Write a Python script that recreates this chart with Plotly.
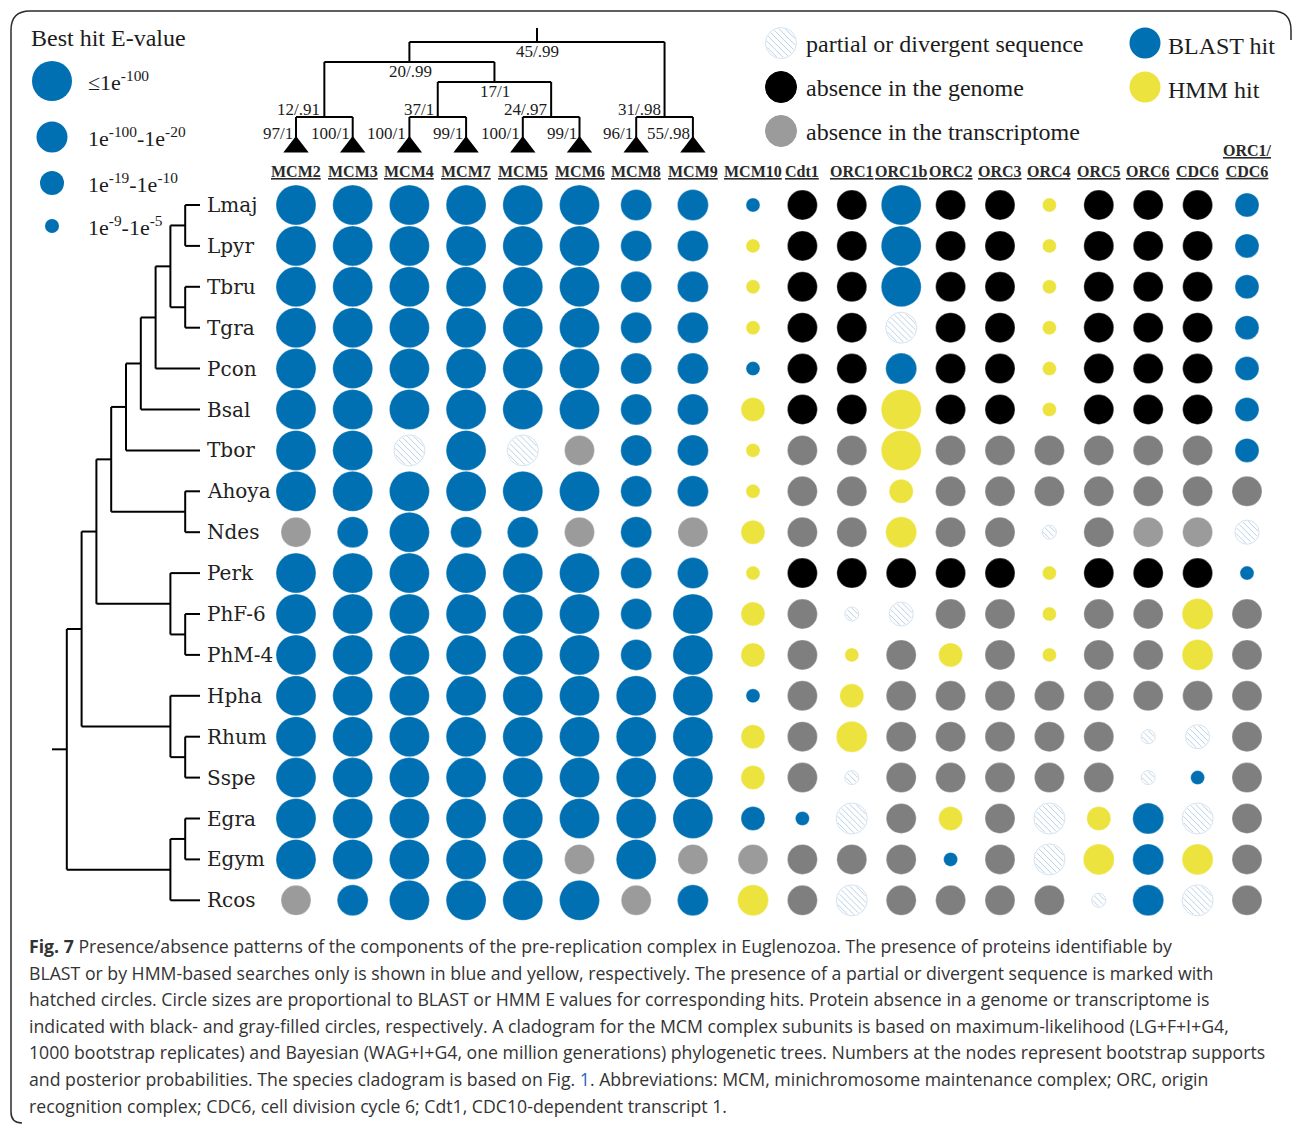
import math
import plotly.graph_objects as go

# ---------------- data ----------------
columns = ["MCM2", "MCM3", "MCM4", "MCM7", "MCM5", "MCM6", "MCM8", "MCM9", "MCM10",
           "Cdt1", "ORC1", "ORC1b", "ORC2", "ORC3", "ORC4", "ORC5", "ORC6", "CDC6", "ORC1/CDC6"]
n_mcm_cols = 8  # columns belonging to the MCM cladogram

species = ["Lmaj", "Lpyr", "Tbru", "Tgra", "Pcon", "Bsal", "Tbor", "Ahoya", "Ndes",
           "Perk", "PhF-6", "PhM-4", "Hpha", "Rhum", "Sspe", "Egra", "Egym", "Rcos"]

# status code: B=BLAST hit, Y=HMM hit, H=partial/divergent, K=absent in genome,
# G=absent in transcriptome (dark), g=absent in transcriptome (light); digit = E-value class
presence = [
    "B1 B1 B1 B1 B1 B1 B2 B2 B4 K K B1 K K Y4 K K K B3",   # Lmaj
    "B1 B1 B1 B1 B1 B1 B2 B2 Y4 K K B1 K K Y4 K K K B3",   # Lpyr
    "B1 B1 B1 B1 B1 B1 B2 B2 Y4 K K B1 K K Y4 K K K B3",   # Tbru
    "B1 B1 B1 B1 B1 B1 B2 B2 Y4 K K H2 K K Y4 K K K B3",   # Tgra
    "B1 B1 B1 B1 B1 B1 B2 B2 B4 K K B2 K K Y4 K K K B3",   # Pcon
    "B1 B1 B1 B1 B1 B1 B2 B2 Y3 K K Y1 K K Y4 K K K B3",   # Bsal
    "B1 B1 H2 B1 H2 g B2 B2 Y4 G G Y1 G G G G G G B3",     # Tbor
    "B1 B1 B1 B1 B1 B1 B2 B2 Y4 G G Y3 G G G G G G G",     # Ahoya
    "g B2 B1 B2 B2 g B2 g Y3 G G Y2 G G H4 G g g H3",      # Ndes
    "B1 B1 B1 B1 B1 B1 B2 B2 Y4 K K K K K Y4 K K K B4",    # Perk
    "B1 B1 B1 B1 B1 B1 B2 B1 Y3 G H4 H3 G G Y4 G G Y2 G",  # PhF-6
    "B1 B1 B1 B1 B1 B1 B2 B1 Y3 G Y4 G Y3 G Y4 G G Y2 G",  # PhM-4
    "B1 B1 B1 B1 B1 B1 B1 B1 B4 G Y3 G G G G G G G G",     # Hpha
    "B1 B1 B1 B1 B1 B1 B1 B1 Y3 G Y2 G G G G G H4 H3 G",   # Rhum
    "B1 B1 B1 B1 B1 B1 B1 B1 Y3 G H4 G G G G G H4 B4 G",   # Sspe
    "B1 B1 B1 B1 B1 B1 B1 B1 B3 B4 H2 G Y3 G H2 Y3 B2 H2 G",  # Egra
    "B1 B1 B1 B1 B1 g B1 g g G G G B4 G H2 Y2 B2 Y2 G",    # Egym
    "g B2 B1 B1 B1 B1 g B2 Y2 G H2 G G G G H4 B2 H2 G",    # Rcos
]

# MCM cladogram: (support, children); tips carry their own supports
mcm_tree = ("45/.99", [
    ("20/.99", [
        ("12/.91", ["MCM2", "MCM3"]),
        ("17/1", [("37/1", ["MCM4", "MCM7"]), ("24/.97", ["MCM5", "MCM6"])]),
    ]),
    ("31/.98", ["MCM8", "MCM9"]),
])
tip_supports = ["97/1", "100/1", "100/1", "99/1", "100/1", "99/1", "96/1", "55/.98"]

# species cladogram (nested pairs)
species_tree = (
    (
        (
            (
                ((((("Lmaj", "Lpyr"), ("Tbru", "Tgra")), "Pcon"), "Bsal"), "Tbor"),
                ("Ahoya", "Ndes"),
            ),
            ("Perk", ("PhF-6", "PhM-4")),
        ),
        ("Hpha", ("Rhum", "Sspe")),
    ),
    (("Egra", "Egym"), "Rcos"),
)

evalue_classes = ["\u22641e<sup>-100</sup>", "1e<sup>-100</sup>-1e<sup>-20</sup>",
                  "1e<sup>-19</sup>-1e<sup>-10</sup>", "1e<sup>-9</sup>-1e<sup>-5</sup>"]

caption_lines = [
    "<b>Fig. 7</b> Presence/absence patterns of the components of the pre-replication complex in Euglenozoa. The presence of proteins identifiable by",
    "BLAST or by HMM-based searches only is shown in blue and yellow, respectively. The presence of a partial or divergent sequence is marked with",
    "hatched circles. Circle sizes are proportional to BLAST or HMM E values for corresponding hits. Protein absence in a genome or transcriptome is",
    "indicated with black- and gray-filled circles, respectively. A cladogram for the MCM complex subunits is based on maximum-likelihood (LG+F+I+G4,",
    "1000 bootstrap replicates) and Bayesian (WAG+I+G4, one million generations) phylogenetic trees. Numbers at the nodes represent bootstrap supports",
    "and posterior probabilities. The species cladogram is based on Fig. <span style='color:#2a62b8'>1</span>. Abbreviations: MCM, minichromosome maintenance complex; ORC, origin",
    "recognition complex; CDC6, cell division cycle 6; Cdt1, CDC10-dependent transcript 1.",
]

# ---------------- layout constants ----------------
W, H = 1293, 1124
COL_X0, COL_DX1 = 296.0, 56.7
COL_X1, COL_DX2 = 753.0, 49.4
ROW_Y0, ROW_DY = 205.0, 40.9
SIZE = {"1": 40, "2": 31, "3": 24, "4": 14}
ABS_SIZE = 30
COLOR = {"B": "#0070b2", "Y": "#ede33f", "K": "#000000", "G": "#7f7f7f",
         "g": "#9b9b9b", "H": "#ffffff"}
HATCH_LINE = "#b9d2e8"
HATCH_EDGE = "#d3e3f1"
SERIF = "Liberation Serif, Times New Roman, serif"
LABEL_FONT = "DejaVu Serif, serif"
TXT = "#1c1c1c"


def col_x(i):
    return COL_X0 + COL_DX1 * i if i < n_mcm_cols else COL_X1 + COL_DX2 * (i - n_mcm_cols)


def row_y(j):
    return ROW_Y0 + ROW_DY * j


col_pos = {c: col_x(i) for i, c in enumerate(columns)}
row_pos = {s: row_y(j) for j, s in enumerate(species)}

fig = go.Figure()
annotations = []
shapes = []


def ann(x, y, text, size, family=SERIF, color=TXT, xanchor="center", yanchor="middle", **kw):
    annotations.append(dict(x=x, y=y, xref="x", yref="y", text=text, showarrow=False,
                            font=dict(size=size, family=family, color=color),
                            xanchor=xanchor, yanchor=yanchor, **kw))


def hatch_lines(cx, cy, r, spacing=4.3):
    xs, ys = [], []
    n = int(r / spacing)
    s2 = math.sqrt(2)
    for k in range(-n, n + 1):
        t = k * spacing
        h = math.sqrt(max(r * r - t * t, 0.0))
        if h < 1:
            continue
        px, py = cx + t / s2, cy - t / s2
        xs += [px - h / s2, px + h / s2, None]
        ys += [py - h / s2, py + h / s2, None]
    return xs, ys


# ---------------- grid of circles ----------------
groups = {}
hx, hy = [], []
for j, sp in enumerate(species):
    codes = presence[j].split()
    for i, code in enumerate(codes):
        st = code[0]
        d = SIZE[code[1]] if len(code) > 1 else ABS_SIZE
        groups.setdefault(st, {"x": [], "y": [], "s": []})
        groups[st]["x"].append(col_pos[columns[i]])
        groups[st]["y"].append(row_pos[sp])
        groups[st]["s"].append(d)
        if st == "H":
            xs, ys = hatch_lines(col_pos[columns[i]], row_pos[sp], d / 2 - 1)
            hx += xs
            hy += ys

for st, g in groups.items():
    if st == "H":
        line = dict(color=HATCH_EDGE, width=1)
    else:
        line = dict(color="rgba(255,255,255,0.5)", width=0.6)
    fig.add_trace(go.Scatter(x=g["x"], y=g["y"], mode="markers",
                             marker=dict(symbol="circle", size=g["s"], color=COLOR[st],
                                         opacity=1, line=line),
                             hoverinfo="skip"))

# ---------------- column headers ----------------
for c in columns:
    lab = "<br>".join("<u>%s</u>" % p for p in c.replace("/", "/\n").split("\n"))
    ann(col_pos[c], 182, "<b>%s</b>" % lab, 16, color="#2a2a2a", yanchor="bottom")

# ---------------- species labels ----------------
for s in species:
    ann(205, row_pos[s], s, 20, family=LABEL_FONT, color="#222222", xanchor="left")

# ---------------- species cladogram ----------------
LEAF_X, STEP = 200.0, 14.8
tx, ty = [], []


def layout_species(node):
    """returns (x, y, height)"""
    if isinstance(node, str):
        return LEAF_X, row_pos[node], 0
    kids = [layout_species(k) for k in node]
    h = max(k[2] for k in kids) + 1
    x = LEAF_X - STEP * h
    ys = [k[1] for k in kids]
    tx.extend([x, x, None]); ty.extend([min(ys), max(ys), None])
    for kx, ky, _ in kids:
        tx.extend([x, kx, None]); ty.extend([ky, ky, None])
    return x, (min(ys) + max(ys)) / 2, h


rx, ry, _ = layout_species(species_tree)
tx.extend([rx - STEP, rx, None]); ty.extend([ry, ry, None])
fig.add_trace(go.Scatter(x=tx, y=ty, mode="lines", line=dict(color="#000", width=2),
                         hoverinfo="skip"))

# ---------------- MCM cladogram ----------------
TOP_Y = {0: 140, 1: 117, 2: 82, 3: 62, 4: 42}
ROOT_TOP = 28
mx, my = [], []
tip_sup = dict(zip(columns[:n_mcm_cols], tip_supports))


def layout_mcm(node):
    if isinstance(node, str):
        return col_pos[node], 0
    sup, kids = node
    laid = [layout_mcm(k) for k in kids]
    h = max(k[1] for k in laid) + 1
    y = TOP_Y[h]
    xs = [k[0] for k in laid]
    mx.extend([min(xs), max(xs), None]); my.extend([y, y, None])
    for kx, kh in laid:
        mx.extend([kx, kx, None]); my.extend([y, TOP_Y[kh], None])
    x = (min(xs) + max(xs)) / 2
    if h == 1:
        ann(x - 2, y - 8, sup, 17, xanchor="right", yanchor="middle")
    else:
        ann(x + 1, y + 9, sup, 17, xanchor="center", yanchor="middle")
    return x, h


rootx, rooth = layout_mcm(mcm_tree)
mx.extend([rootx, rootx, None]); my.extend([ROOT_TOP, TOP_Y[rooth], None])
fig.add_trace(go.Scatter(x=mx, y=my, mode="lines", line=dict(color="#000", width=2),
                         hoverinfo="skip"))
tipx = [col_pos[c] for c in columns[:n_mcm_cols]]
fig.add_trace(go.Scatter(x=tipx, y=[TOP_Y[0] + 7] * len(tipx), mode="markers",
                         marker=dict(symbol="triangle-up", size=22, color="#000", opacity=1,
                                     line=dict(width=0)), hoverinfo="skip"))
for c in columns[:n_mcm_cols]:
    ann(col_pos[c] - 1, TOP_Y[0] - 7, tip_sup[c], 17, xanchor="right", yanchor="middle")

# ---------------- legends ----------------
ann(29, 38, "Best hit E-value", 24, xanchor="left")
leg_sizes = [SIZE["1"], SIZE["2"], SIZE["3"], SIZE["4"]]
leg_y = [81, 137, 183, 226]
fig.add_trace(go.Scatter(x=[52] * 4, y=leg_y, mode="markers",
                         marker=dict(size=leg_sizes, color=COLOR["B"], opacity=1,
                                     line=dict(width=0)),
                         hoverinfo="skip"))
for yy, t in zip(leg_y, evalue_classes):
    ann(86, yy, t, 22, xanchor="left")

status_legend = [("H", "partial or divergent sequence"), ("K", "absence in the genome"),
                 ("g", "absence in the transcriptome")]
hit_legend = [("B", "BLAST hit"), ("Y", "HMM hit")]
sl_y = [43, 87, 131]
for (st, t), yy in zip(status_legend, sl_y):
    fig.add_trace(go.Scatter(x=[781], y=[yy], mode="markers",
                             marker=dict(size=31, color=COLOR[st], opacity=1,
                                         line=dict(color=HATCH_EDGE if st == "H" else COLOR[st], width=1)),
                             hoverinfo="skip"))
    if st == "H":
        xs, ys = hatch_lines(781, yy, 14.5)
        hx += xs
        hy += ys
    ann(804, yy + 1, t, 24, xanchor="left")
for (st, t), yy in zip(hit_legend, [43, 87]):
    fig.add_trace(go.Scatter(x=[1145], y=[yy], mode="markers",
                             marker=dict(size=31, color=COLOR[st], opacity=1, line=dict(width=0)),
                             hoverinfo="skip"))
    ann(1166, yy + 3, t, 24, xanchor="left")

fig.add_trace(go.Scatter(x=hx, y=hy, mode="lines", line=dict(color=HATCH_LINE, width=1),
                         hoverinfo="skip"))

# ---------------- caption ----------------
for k, line in enumerate(caption_lines):
    ann(27, 946 + 26.6 * k, line, 17.7, family="Open Sans, Roboto, sans-serif",
        color="#333333", xanchor="left")

# ---------------- frame ----------------
shapes.append(dict(type="path", xref="x", yref="y",
                   path="M 22,1123 Q 11,1123 11,1112 L 11,30 Q 11,11 30,11 L 1272,11 Q 1291,11 1291,30 L 1291,40",
                   line=dict(color="#2b2b2b", width=1.5)))

fig.update_layout(
    width=W, height=H, margin=dict(l=0, r=0, t=0, b=0, pad=0),
    paper_bgcolor="white", plot_bgcolor="white", showlegend=False,
    xaxis=dict(range=[0, W], visible=False, fixedrange=True),
    yaxis=dict(range=[H, 0], visible=False, fixedrange=True),
    annotations=annotations, shapes=shapes,
)
fig.write_html("out.html", config={"displayModeBar": False},
               post_script="document.body.style.margin='0';")
